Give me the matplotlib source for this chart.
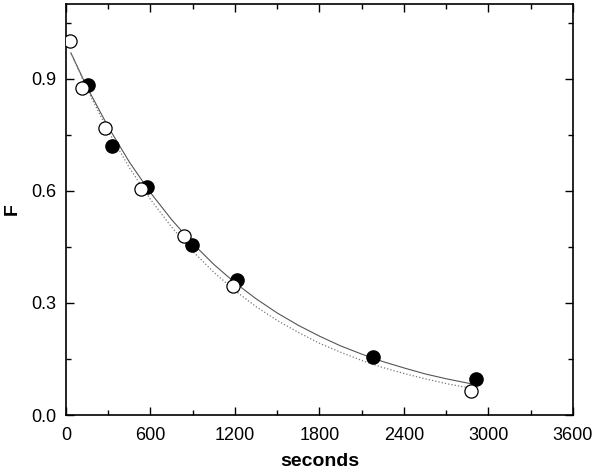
import matplotlib.pyplot as plt
from matplotlib.ticker import MultipleLocator

# data
t_open = [30, 114, 277, 533, 838, 1186, 2876]
F_open = [1.0, 0.876, 0.769, 0.604, 0.478, 0.345, 0.064]

t_filled = [156, 327, 575, 895, 1214, 2180, 2912]
F_filled = [0.884, 0.721, 0.609, 0.454, 0.361, 0.155, 0.096]

# fitted curves
t_fit = [35, 150, 300, 450, 600, 750, 900, 1050, 1200, 1350, 1500, 1650,
         1800, 1950, 2100, 2250, 2400, 2550, 2700, 2885]
F_fit_solid = [0.969, 0.877, 0.771, 0.677, 0.595, 0.523, 0.459, 0.403, 0.354,
               0.311, 0.273, 0.240, 0.211, 0.185, 0.163, 0.143, 0.126, 0.110,
               0.097, 0.083]
F_fit_dotted = [0.969, 0.872, 0.760, 0.662, 0.577, 0.503, 0.438, 0.382, 0.333,
                0.290, 0.253, 0.221, 0.192, 0.168, 0.146, 0.127, 0.111, 0.097,
                0.084, 0.071]

plt.rcParams['font.family'] = ['Liberation Sans', 'DejaVu Sans']

fig = plt.figure(figsize=(6.01, 4.73), dpi=100)
ax = fig.add_axes([0.1098, 0.1226, 0.8436, 0.8689])

ax.plot(t_fit, F_fit_solid, '-', color='#555555', lw=0.8, zorder=2)
ax.plot(t_fit, F_fit_dotted, ':', color='#777777', lw=0.9, zorder=2)

ax.plot(t_filled, F_filled, 'o', ms=9.5, mfc='black', mec='black', zorder=3)
ax.plot(t_open, F_open, 'o', ms=9.5, mfc='white', mec='black', mew=0.9, zorder=4)

ax.set_xlim(0, 3600)
ax.set_ylim(0, 1.1)
ax.xaxis.set_major_locator(MultipleLocator(600))
ax.xaxis.set_minor_locator(MultipleLocator(300))
ax.yaxis.set_major_locator(MultipleLocator(0.3))
ax.yaxis.set_minor_locator(MultipleLocator(0.15))
ax.yaxis.set_major_formatter(plt.FormatStrFormatter('%.1f'))

ax.tick_params(which='both', direction='in', top=True, right=True, labelsize=13, width=1)
ax.tick_params(which='major', length=6)
ax.tick_params(which='minor', length=3.5)
ax.tick_params(axis='x', which='major', pad=8.5)
ax.tick_params(axis='y', which='major', pad=7)
for s in ax.spines.values():
    s.set_linewidth(1.2)

ax.set_xlabel('seconds', fontsize=14, fontweight='bold', va='center')
ax.set_ylabel('F', fontsize=14, fontweight='bold', va='center')
ax.xaxis.set_label_coords(0.5, -0.114)
ax.yaxis.set_label_coords(-0.1065, 0.5)

fig.savefig('out.png', dpi=100)
